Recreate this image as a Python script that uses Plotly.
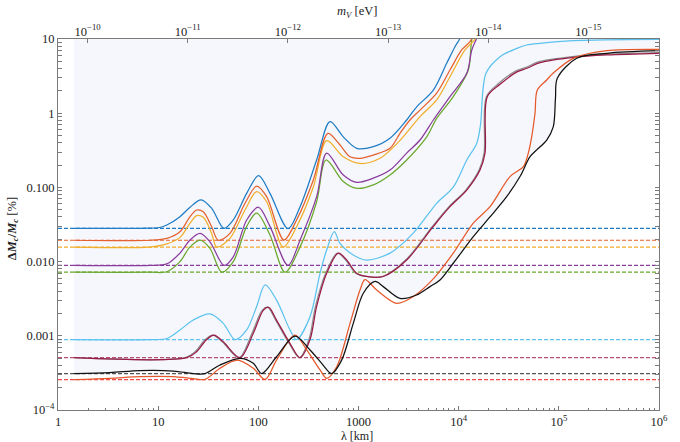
import plotly.graph_objects as go

# ---------------- data (lambda in km, Delta M_c / M_c in %) ----------------
lam_blue = [1.44, 6.6, 10.4, 12.2, 16.5, 20.8, 26.8, 34.2, 45.4, 56.2, 76.5, 100.6, 130.7, 198, 261, 382, 519, 705, 959, 1406, 2062, 3027, 3811, 5585, 7590, 9189, 10100, 10500]
val_blue = [0.0281, 0.0281, 0.0288, 0.0311, 0.0403, 0.054, 0.068, 0.0523, 0.0281, 0.0364, 0.0832, 0.1438, 0.0832, 0.0278, 0.0549, 0.234, 0.77, 0.48, 0.336, 0.354, 0.46, 0.81, 1.22, 2.05, 4.70, 7.87, 9.69, 11]

lam_orange = [1.44, 8.28, 12.2, 16.5, 20.8, 24.2, 28.2, 34.2, 39.8, 52.1, 73.6, 96.3, 121, 180, 241, 354, 496, 654, 823, 1035, 1406, 2062, 2596, 3266, 4111, 6030, 8189, 10720, 12970, 14000]
val_orange = [0.0194, 0.0194, 0.0206, 0.0253, 0.0403, 0.0496, 0.0471, 0.0295, 0.0194, 0.0240, 0.0611, 0.104, 0.075, 0.0196, 0.0364, 0.126, 0.536, 0.373, 0.259, 0.247, 0.273, 0.336, 0.536, 0.81, 1.10, 1.86, 3.82, 7.11, 9.2, 11]

lam_yellow = [1.44, 8.28, 12.2, 16.5, 20.8, 24.2, 28.2, 34.2, 38.4, 52.1, 73.6, 96.3, 121, 177, 241, 354, 481, 705, 1035, 1640, 2596, 4111, 6030, 8189, 11560, 13900, 15500]
val_yellow = [0.0157, 0.0157, 0.0173, 0.0212, 0.033, 0.0416, 0.0396, 0.024, 0.0157, 0.0206, 0.0496, 0.088, 0.0641, 0.0157, 0.0295, 0.101, 0.426, 0.259, 0.21, 0.247, 0.43, 0.90, 1.51, 3.10, 7.11, 9.2, 11]

lam_purple = [1.44, 8.28, 12.2, 16.5, 20.8, 26.2, 32.9, 45.4, 56.2, 76.5, 100.6, 130.7, 198, 261, 382, 481, 705, 959, 1406, 2062, 3027, 4111, 5585, 8189, 12050, 13520, 14890, 15500]
val_purple = [0.0089, 0.0089, 0.0093, 0.0130, 0.0195, 0.024, 0.0185, 0.0089, 0.0116, 0.0364, 0.054, 0.0298, 0.0089, 0.0195, 0.075, 0.29, 0.147, 0.117, 0.133, 0.171, 0.29, 0.435, 0.81, 1.67, 3.45, 7.11, 9.69, 11]

lam_green = [1.44, 8.28, 12.2, 16.5, 20.8, 26.2, 32.9, 43.1, 56.2, 76.5, 96.3, 130.7, 185, 261, 382, 474, 705, 959, 1406, 2062, 3027, 4797, 6030, 8830, 12480, 13180, 13490, 13800]
val_green = [0.0072, 0.0072, 0.0073, 0.00998, 0.0158, 0.0195, 0.0151, 0.0072, 0.00998, 0.0298, 0.045, 0.0228, 0.0072, 0.0158, 0.0641, 0.234, 0.12, 0.097, 0.108, 0.147, 0.234, 0.48, 0.85, 1.67, 3.82, 7.11, 9.69, 11]

lam_lightblue = [1.44, 8.28, 12.2, 16.5, 22.4, 32.9, 44.7, 58.5, 76.5, 96.3, 117, 152, 207, 241, 328, 413, 481, 573, 654, 887, 1208, 2062, 3500, 6030, 8830, 12050, 15130, 16500, 18750, 25870, 38210, 47760, 64890, 139400, 1000000]
val_lightblue = [0.00089, 0.00089, 0.00092, 0.0012, 0.00163, 0.00197, 0.00147, 0.00089, 0.0012, 0.00249, 0.00484, 0.00303, 0.0012, 0.00089, 0.00181, 0.00695, 0.0143, 0.0253, 0.0176, 0.0123, 0.0105, 0.0130, 0.024, 0.061, 0.101, 0.234, 0.39, 0.69, 3.45, 5.77, 7.49, 8.3, 8.75, 9.5, 9.9]

lam_maroon = [1.44, 19.3, 24.2, 30.5, 36.1, 44.7, 65.6, 89.1, 112, 127, 152, 207, 261, 328, 382, 481, 629, 762, 959, 1208, 1767, 3027, 5585, 8189, 12050, 16330, 18320, 19300, 25870, 38210, 48120, 64890, 139400, 302700, 1000000]
val_maroon = [0.000507, 0.000507, 0.00061, 0.00089, 0.00102, 0.00083, 0.000507, 0.00108, 0.0022, 0.00242, 0.00163, 0.00079, 0.000507, 0.00089, 0.00249, 0.00695, 0.0130, 0.0105, 0.00695, 0.0063, 0.0063, 0.0105, 0.0298, 0.055, 0.092, 0.171, 0.29, 1.67, 2.45, 3.6, 4.03, 4.8, 5.66, 6.1, 6.42]

lam_gray = [1.44, 18.6, 23.4, 29.5, 35.0, 43.6, 64.0, 86.5, 109, 124, 149, 203, 257, 320, 372, 470, 615, 745, 940, 1185, 1735, 2960, 5470, 8010, 11790, 15980, 17930, 18900, 25300, 37400, 47100, 63500, 136500, 296000, 1000000]
val_gray = [0.000507, 0.000507, 0.00061, 0.00089, 0.00102, 0.00083, 0.000507, 0.00108, 0.0022, 0.00242, 0.00163, 0.00079, 0.000507, 0.00089, 0.00249, 0.00695, 0.0130, 0.0105, 0.00695, 0.0063, 0.0063, 0.0105, 0.0298, 0.055, 0.092, 0.171, 0.29, 1.67, 2.55, 3.72, 4.15, 4.95, 5.8, 6.25, 6.55]

lam_black = [1.44, 3.31, 6.59, 14.2, 22.4, 29.3, 41.4, 65.6, 89.1, 108, 152, 232, 328, 429, 540, 679, 887, 1117, 1461, 1767, 2596, 3811, 5174, 6513, 8830, 14000, 20560, 30130, 40960, 51560, 60100, 75700, 88100, 92600, 96600, 150700, 302700, 1000000]
val_black = [0.000309, 0.00032, 0.00034, 0.000335, 0.00031, 0.000309, 0.000404, 0.000498, 0.000426, 0.00031, 0.000522, 0.00099, 0.000644, 0.000426, 0.00031, 0.00047, 0.00147, 0.00374, 0.0054, 0.0046, 0.0032, 0.00355, 0.0046, 0.00565, 0.0095, 0.0217, 0.040, 0.075, 0.14, 0.26, 0.32, 0.435, 0.66, 1.6, 2.95, 5.49, 6.42, 6.95]

lam_redorange = [1.44, 3.31, 6.59, 14.2, 22.4, 29.3, 41.4, 61.7, 89.1, 117, 152, 232, 304, 413, 481, 606, 823, 1035, 1161, 1520, 2405, 3500, 5544, 8830, 14000, 20560, 32550, 44180, 49560, 53560, 57830, 60950, 75700, 87460, 139400, 302700, 1000000]
val_redorange = [0.000256, 0.000267, 0.000281, 0.000281, 0.000265, 0.000258, 0.000365, 0.00047, 0.000365, 0.000258, 0.00047, 0.00102, 0.000644, 0.000347, 0.000267, 0.000383, 0.00147, 0.00414, 0.0057, 0.00414, 0.00274, 0.00336, 0.0058, 0.0130, 0.033, 0.055, 0.14, 0.19, 0.29, 0.48, 1.0, 2.05, 2.80, 3.45, 5.49, 6.95, 7.26]

# dashed reference levels
dash_levels = [0.0281, 0.0194, 0.0157, 0.0089, 0.0072, 0.00089, 0.000507, 0.000309, 0.000256]
dash_colors = ["#1f7cc4", "#e4602c", "#f0ae2a", "#8a3c9c", "#6aa82e", "#5cc3ee", "#b8506f", "#555555", "#f24a4a"]

x_ticks = [1, 10, 100, 1000, 1e4, 1e5, 1e6]
x_ticktext = ["1", "10", "100", "1000", "10<sup>4</sup>", "10<sup>5</sup>", "10<sup>6</sup>"]
y_ticks = [10, 1, 0.1, 0.01, 0.001, 1e-4]
y_ticktext = ["10", "1", "0.100", "0.010", "0.001", "10<sup>−4</sup>"]
mv_exponents = [-10, -11, -12, -13, -14, -15]
hbar_c_km_eV = 1.97327e-10  # lambda[km] = hbar*c / m_V

# ---------------------------------------------------------------------------
FONT = "Liberation Serif"
AX = "#7a7a7a"
SM = 0.9

fig = go.Figure()

# shaded region: above the black curve, up to the top of the frame
fig.add_trace(go.Scatter(x=[lam_black[0], lam_black[-1]], y=[10, 10], mode="lines",
                         line=dict(width=0), hoverinfo="skip", showlegend=False))
fig.add_trace(go.Scatter(x=lam_black, y=val_black, mode="lines", fill="tonexty",
                         fillcolor="rgb(246,247,253)",
                         line=dict(width=0, shape="spline", smoothing=SM),
                         hoverinfo="skip", showlegend=False))

# dashed horizontal levels
for lev, col in zip(dash_levels, dash_colors):
    fig.add_trace(go.Scatter(x=[1, 1e6], y=[lev, lev], mode="lines",
                             line=dict(color=col, width=1.2, dash="4px,2px"),
                             hoverinfo="skip", showlegend=False))

curves = [
    (lam_gray, val_gray, "#8c8c8c"),
    (lam_green, val_green, "#6aa82e"),
    (lam_purple, val_purple, "#8a3c9c"),
    (lam_yellow, val_yellow, "#f0ae2a"),
    (lam_orange, val_orange, "#e4602c"),
    (lam_blue, val_blue, "#1f7cc4"),
    (lam_lightblue, val_lightblue, "#5cc3ee"),
    (lam_maroon, val_maroon, "#9a1c46"),
    (lam_redorange, val_redorange, "#e5582a"),
    (lam_black, val_black, "#111111"),
]
for lx, ly, col in curves:
    fig.add_trace(go.Scatter(x=lx, y=ly, mode="lines",
                             line=dict(color=col, width=1.25, shape="spline", smoothing=SM),
                             hoverinfo="skip", showlegend=False))

# dummy trace so the top (m_V) axis is drawn
fig.add_trace(go.Scatter(x=[1, 1e6], y=[1e-4, 1e-4], xaxis="x2", mode="lines",
                         line=dict(width=0), opacity=0, hoverinfo="skip", showlegend=False))

minor_x = [n * 10 ** k for k in range(0, 6) for n in range(2, 10)]
minor_y = [n * 10.0 ** k for k in range(-4, 1) for n in range(2, 10)]

tickfont = dict(family=FONT, size=12.5, color="#222222")
titlefont = dict(family=FONT, size=12.5, color="#222222")

fig.update_layout(
    width=680, height=442,
    margin=dict(l=58, r=21, t=39, b=32, autoexpand=False),
    paper_bgcolor="white", plot_bgcolor="white",
    font=dict(family=FONT, size=12, color="#222222"),
    xaxis=dict(type="log", range=[0, 6], showgrid=False, zeroline=False, automargin=False,
               showline=True, linecolor=AX, linewidth=1, mirror=True,
               ticks="inside", ticklen=4, tickwidth=1, tickcolor=AX,
               tickmode="array", tickvals=x_ticks, ticktext=x_ticktext, tickfont=tickfont,
               minor=dict(ticks="inside", ticklen=2, tickwidth=1, tickcolor=AX,
                          tickmode="array", tickvals=minor_x, showgrid=False)),
    xaxis2=dict(type="log", range=[0, 6], overlaying="x", side="top", anchor="y",
                showgrid=False, zeroline=False, showline=False, automargin=False,
                ticks="inside", ticklen=4, tickwidth=1, tickcolor=AX,
                tickmode="array", tickvals=[hbar_c_km_eV / 10.0 ** e for e in mv_exponents],
                ticktext=["10<sup>−%d</sup>" % (-e) for e in mv_exponents], tickfont=tickfont),
    yaxis=dict(type="log", range=[-4, 1], showgrid=False, zeroline=False, automargin=False,
               showline=True, linecolor=AX, linewidth=1, mirror="allticks",
               ticks="inside", ticklen=4, tickwidth=1, tickcolor=AX,
               tickmode="array", tickvals=y_ticks, ticktext=y_ticktext, tickfont=tickfont,
               minor=dict(ticks="inside", ticklen=2, tickwidth=1, tickcolor=AX,
                          tickmode="array", tickvals=minor_y, showgrid=False)),
    annotations=[
        dict(text="λ [km]", xref="paper", yref="paper", x=0.4975, y=-0.069,
             xanchor="center", yanchor="middle", showarrow=False,
             font=dict(family=FONT, size=12, color="#222222")),
        dict(text="<i>m</i><sub><i>V</i></sub> [eV]", xref="paper", yref="paper", x=0.4975, y=1.073,
             xanchor="center", yanchor="middle", showarrow=False, font=titlefont),
        dict(text="<b>Δ<i>M</i><sub><i>c</i></sub>/<i>M</i><sub><i>c</i></sub></b> [%]",
             xref="paper", yref="paper", x=-0.075, y=0.49, textangle=-90,
             xanchor="center", yanchor="middle", showarrow=False, font=titlefont),
    ],
)

fig.write_html("out.html")
